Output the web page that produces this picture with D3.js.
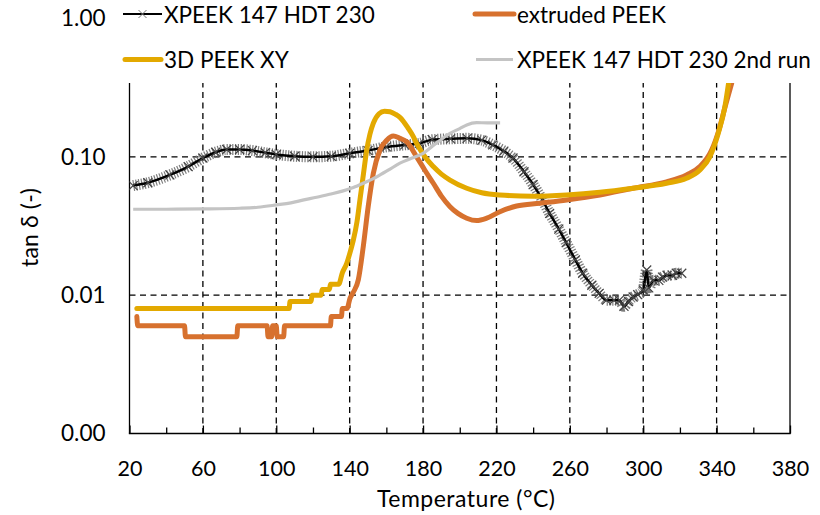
<!DOCTYPE html>
<html><head><meta charset="utf-8">
<script src="https://cdn.jsdelivr.net/npm/d3@7"></script>
<style>
body{margin:0;background:#fff}
svg{display:block}
text{font-family:Lato, "Open Sans", sans-serif; fill:#000}
</style>
</head><body>
<svg id="c" width="820" height="515"></svg>
<script>
// ---------- data ----------
const xTicks = [20,60,100,140,180,220,260,300,340,380];
const xMinorTicks = [40,80,120,160,200,240,280,320,360];
const yTicks = [0.001,0.01,0.1,1];
const yTickLabels = ["0.00","0.01","0.10","1.00"];
const xTitle = "Temperature (°C)";
const yTitle = "tan δ (-)";
const seriesNames = ["XPEEK 147 HDT 230","extruded PEEK","3D PEEK XY","XPEEK 147 HDT 230 2nd run"];

const xpeekT = [22,30,42,52,60,67,73,80,87,94,100,110,120,130,140,150,160,170,178,185,195,204,212,218,224,229,235,240,245,249,254,258,263,267,272,276,280,284,287,289.5,292,294.5,297,300,301.9,303,305.5,308.5,310.5,313,316,318,321];
const xpeekV = [0.062,0.065,0.074,0.085,0.098,0.108,0.113,0.113,0.111,0.107,0.104,0.101,0.100,0.101,0.106,0.111,0.118,0.122,0.125,0.133,0.135,0.136,0.132,0.122,0.110,0.098,0.078,0.063,0.049,0.039,0.030,0.024,0.018,0.0144,0.0118,0.0103,0.0092,0.0092,0.0092,0.0083,0.009,0.0097,0.0101,0.0109,0.0152,0.0113,0.0128,0.0128,0.0135,0.0139,0.0139,0.0144,0.0144];

const extrT = [24,24.5,50,50.5,78.5,79,95,95.5,97.5,98,100,100.5,104,104.5,129.5,130,135.5,136,138.5,140.2,142,144.7,147.4,150.1,152.9,156.5,160.2,163.8,167.4,171,176.5,181,185.6,190,194.7,199,203.8,209.2,214.7,221.9,231,243.7,258.3,276.4,294.5,312.7,323.6,330.9,337.3,341.5,345,348.2];
const extrV = [0.007,0.006,0.006,0.005,0.005,0.006,0.006,0.005,0.005,0.006,0.006,0.005,0.005,0.006,0.006,0.007,0.007,0.008,0.008,0.0095,0.0105,0.0129,0.0224,0.0436,0.076,0.112,0.132,0.1415,0.136,0.1286,0.100,0.080,0.0644,0.052,0.0436,0.039,0.036,0.0346,0.036,0.0401,0.0441,0.0462,0.0488,0.053,0.0593,0.066,0.074,0.085,0.112,0.16,0.24,0.34];

const d3pT = [24,107,107.5,119,119.5,124.5,125,129,129.5,134,136,138.4,140.5,142,144,145.6,147.5,149.3,151,152.9,156,159,162,165,167.4,172,174.7,176.5,181,185.6,190,194.7,203.8,212,221.9,240,258.3,276.4,294.5,312.7,323.6,330.9,336.3,340.9,344.5,346.5];
const d3pV = [0.008,0.008,0.009,0.009,0.010,0.010,0.011,0.011,0.012,0.012,0.0145,0.017,0.021,0.025,0.034,0.0488,0.075,0.112,0.145,0.175,0.205,0.214,0.212,0.203,0.193,0.160,0.140,0.125,0.100,0.085,0.075,0.068,0.0593,0.055,0.053,0.0519,0.053,0.0554,0.0593,0.0644,0.070,0.0803,0.100,0.148,0.230,0.34];

const run2T = [22,40,60,80,90,100,108,115,122,129,136,142,148,155,161,167.4,174,180,187,194.7,200,203.8,209.2,215,222];
const run2V = [0.0418,0.0418,0.0420,0.0425,0.0432,0.0449,0.0465,0.0488,0.051,0.0536,0.0565,0.060,0.065,0.072,0.080,0.090,0.098,0.106,0.125,0.148,0.160,0.170,0.1766,0.176,0.176];

// ---------- chart ----------
const svg = d3.select("#c");
const L = 129.5, R = 790, T = 18.5, B = 433.5;
const x = d3.scaleLinear().domain([20,380]).range([L,R]);
const y = d3.scaleLog().domain([0.001,1]).range([B,T]);
const FS_X = 21.5, FS_Y = 22.5, FS_LEG = 22.5, FS_T = 23;

svg.append("defs").append("clipPath").attr("id","pc")
  .append("rect").attr("x",L).attr("y",T).attr("width",R-L).attr("height",B-T);

// gridlines
const grid = svg.append("g").attr("stroke","#000").attr("stroke-width",1.3).attr("stroke-dasharray","6,4.5");
grid.selectAll("line.v").data(xTicks.slice(1,-1)).join("line")
  .attr("x1",d=>x(d)).attr("x2",d=>x(d)).attr("y1",T).attr("y2",B);
grid.selectAll("line.h").data(yTicks.slice(1,-1)).join("line")
  .attr("x1",L).attr("x2",R).attr("y1",d=>y(d)).attr("y2",d=>y(d));

// x axis
const xa = svg.append("g").attr("transform",`translate(0,${B})`)
  .call(d3.axisBottom(x).tickValues(xTicks).tickSizeInner(-8).tickSizeOuter(0).tickFormat(d3.format("d")));
xa.select(".domain").remove();
xa.selectAll("line").attr("stroke","#000").attr("stroke-width",1.3);
xa.selectAll("text").attr("y",34.5).attr("dy","0.35em").attr("font-size",FS_X).attr("font-family",null).attr("fill","#000");
const xm = svg.append("g").attr("transform",`translate(0,${B})`)
  .call(d3.axisBottom(x).tickValues(xMinorTicks).tickSizeInner(-6).tickSizeOuter(0).tickFormat(""));
xm.select(".domain").remove();
xm.selectAll("line").attr("stroke","#000").attr("stroke-width",1.3);

// y axis
const ya = svg.append("g").attr("transform",`translate(${L},0)`)
  .call(d3.axisLeft(y).tickValues(yTicks).tickSize(0).tickPadding(24).tickFormat((d,i)=>yTickLabels[i]));
ya.select(".domain").remove();
ya.selectAll("text").attr("font-size",FS_Y).attr("font-family",null).attr("fill","#000");

// frame
const fr = svg.append("g").attr("stroke","#000").attr("stroke-width",1.3);
fr.append("line").attr("x1",L).attr("x2",L).attr("y1",T).attr("y2",B);
fr.append("line").attr("x1",R).attr("x2",R).attr("y1",T).attr("y2",B);
fr.append("line").attr("x1",L-0.65).attr("x2",R+0.65).attr("y1",B).attr("y2",B);

// series
const line = d3.line().x(d=>x(d[0])).y(d=>y(d[1])).curve(d3.curveMonotoneX);
const zip = (a,b)=>a.map((t,i)=>[t,b[i]]);
const plot = svg.append("g").attr("clip-path","url(#pc)");
const xpeek = zip(xpeekT,xpeekV);
plot.append("path").attr("d",line(xpeek)).attr("fill","none")
  .attr("stroke","#6e6e6e").attr("stroke-width",11).attr("stroke-dasharray","1.2,1.6").attr("opacity",0.9);
plot.append("path").attr("d",line(xpeek)).attr("fill","none").attr("stroke","#000").attr("stroke-width",2.5);
plot.selectAll("path.mk").data(xpeek).join("path").attr("class","mk")
  .attr("transform",d=>`translate(${x(d[0])},${y(d[1])})`)
  .attr("d","M-4.5,-4.5L4.5,4.5M-4.5,4.5L4.5,-4.5").attr("stroke","#444").attr("stroke-width",1.2);

const colors = ["#000","#D7712E","#E3A900","#C4C4C4"];
plot.append("path").attr("d",line(zip(extrT,extrV))).attr("fill","none")
  .attr("stroke",colors[1]).attr("stroke-width",5).attr("stroke-linejoin","round").attr("stroke-linecap","round");
plot.append("path").attr("d",line(zip(d3pT,d3pV))).attr("fill","none")
  .attr("stroke",colors[2]).attr("stroke-width",5).attr("stroke-linejoin","round").attr("stroke-linecap","round");
plot.append("path").attr("d",line(zip(run2T,run2V))).attr("fill","none")
  .attr("stroke",colors[3]).attr("stroke-width",3.2).attr("stroke-linejoin","round");

// legend
svg.append("rect").attr("x",113).attr("y",0).attr("width",707).attr("height",83).attr("fill","#fff");
const leg = [
  {n:seriesNames[0], lx:[123,162], ly:14, tx:164, c:colors[0], w:2, mk:true},
  {n:seriesNames[1], lx:[475,514], ly:14, tx:517, c:colors[1], w:5, cap:true},
  {n:seriesNames[2], lx:[125,161], ly:59.5, tx:164, c:colors[2], w:5, cap:true},
  {n:seriesNames[3], lx:[476,513], ly:59.5, tx:517, c:colors[3], w:3}
];
const lg = svg.append("g");
leg.forEach(o=>{
  lg.append("line").attr("x1",o.lx[0]).attr("x2",o.lx[1]).attr("y1",o.ly).attr("y2",o.ly)
    .attr("stroke",o.c).attr("stroke-width",o.w).attr("stroke-linecap",o.cap?"round":"butt");
  if(o.mk) lg.append("path").attr("transform",`translate(${(o.lx[0]+o.lx[1])/2},${o.ly})`)
    .attr("d","M-4,-4L4,4M-4,4L4,-4").attr("stroke","#777").attr("stroke-width",1);
  lg.append("text").attr("x",o.tx).attr("y",o.ly+1).attr("dy","0.35em").attr("font-size",FS_LEG).text(o.n);
});

// titles
svg.append("text").attr("x",466).attr("y",499).attr("dy","0.35em").attr("text-anchor","middle")
  .attr("font-size",FS_T).attr("textLength",178).text(xTitle);
svg.append("text").attr("transform","translate(30,227.5) rotate(-90)").attr("dy","0.35em").attr("text-anchor","middle")
  .attr("font-size",FS_T).attr("textLength",79).text(yTitle);
</script>
</body></html>
